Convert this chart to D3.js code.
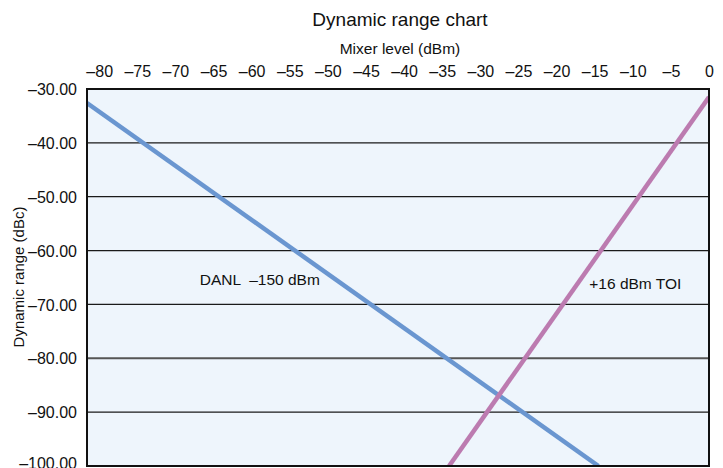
<!DOCTYPE html>
<html>
<head>
<meta charset="utf-8">
<script src="https://cdn.jsdelivr.net/npm/d3@7"></script>
<style>
  body { margin: 0; background: #fff; }
  svg text { font-family: "Liberation Sans Narrow", "Arial Narrow", "Liberation Sans", sans-serif; fill: #111; }
</style>
</head>
<body>
<svg id="chart" width="723" height="468"></svg>
<script>
// ---- data ----
const xTicks = [-80, -75, -70, -65, -60, -55, -50, -45, -40, -35, -30, -25, -20, -15, -10, -5, 0];
const yTicks = [-30, -40, -50, -60, -70, -80, -90, -100];
const danlX = [-81.6, -14.5];
const danlY = [-32.6, -100];
const toiX = [0, -34.1];
const toiY = [-31.5, -100];
const labels = ["DANL  –150 dBm", "+16 dBm TOI"];
const labelX = [-66.8, -15.7];
const labelY = [-66.4, -67.1];

// ---- layout ----
const svg = d3.select("#chart");
const L = 87, R = 709, T = 89, B = 466;
const x = d3.scaleLinear().domain([-81.6, 0]).range([L, R]);
const y = d3.scaleLinear().domain([-30, -100]).range([T, B]);
const dash = v => (v < 0 ? "–" : "") + Math.abs(v);

svg.append("text").attr("x", 400).attr("y", 26).attr("text-anchor", "middle")
  .style("font-size", "19px").text("Dynamic range chart");
svg.append("text").attr("x", 400).attr("y", 54).attr("text-anchor", "middle")
  .style("font-size", "15.5px").text("Mixer level (dBm)");
svg.append("text").attr("transform", "translate(24,277) rotate(-90)").attr("text-anchor", "middle")
  .style("font-size", "15px").text("Dynamic range (dBc)");

// plot background
svg.append("rect").attr("x", L).attr("y", T).attr("width", R - L).attr("height", B - T)
  .attr("fill", "#EEF5FC");

// gridlines
svg.append("g").selectAll("line").data(yTicks.filter(d => d > -100 && d < -30)).join("line")
  .attr("x1", L).attr("x2", R).attr("y1", d => y(d)).attr("y2", d => y(d))
  .attr("stroke", d => d === -80 ? "#555" : "#1a1a1a").attr("stroke-width", d => d === -80 ? 2 : 1.3);

// axes
const xAxis = svg.append("g").attr("transform", `translate(0,${T - 9})`)
  .call(d3.axisTop(x).tickValues(xTicks).tickSize(0).tickFormat(dash));
xAxis.select(".domain").remove();
xAxis.selectAll("text").style("font-size", "16px").attr("dy", "0");

const yAxis = svg.append("g").attr("transform", `translate(${L - 10},0)`)
  .call(d3.axisLeft(y).tickValues(yTicks).tickSize(0).tickFormat(v => "–" + Math.abs(v).toFixed(2)));
yAxis.select(".domain").remove();
yAxis.selectAll("text").style("font-size", "16px").attr("x", 0)
  .attr("dy", d => d === -100 ? "0.15em" : "0.35em");

// clip
svg.append("clipPath").attr("id", "clip").append("rect")
  .attr("x", L).attr("y", T).attr("width", R - L).attr("height", B - T);

const line = d3.line().x(d => x(d[0])).y(d => y(d[1]));
const g = svg.append("g").attr("clip-path", "url(#clip)");
g.append("path").datum(danlX.map((v, i) => [v, danlY[i]])).attr("d", line)
  .attr("fill", "none").attr("stroke", "#6A96D0").attr("stroke-width", 4.5);
g.append("path").datum(toiX.map((v, i) => [v, toiY[i]])).attr("d", line)
  .attr("fill", "none").attr("stroke", "#BC7BB0").attr("stroke-width", 4.5);

// border
svg.append("rect").attr("x", L).attr("y", T).attr("width", R - L).attr("height", B - T)
  .attr("fill", "none").attr("stroke", "#111").attr("stroke-width", 2);

// annotations
svg.append("g").selectAll("text").data(labels).join("text")
  .attr("x", (d, i) => x(labelX[i])).attr("y", (d, i) => y(labelY[i]))
  .style("font-size", "15.5px").style("white-space", "pre").text(d => d);
</script>
</body>
</html>
